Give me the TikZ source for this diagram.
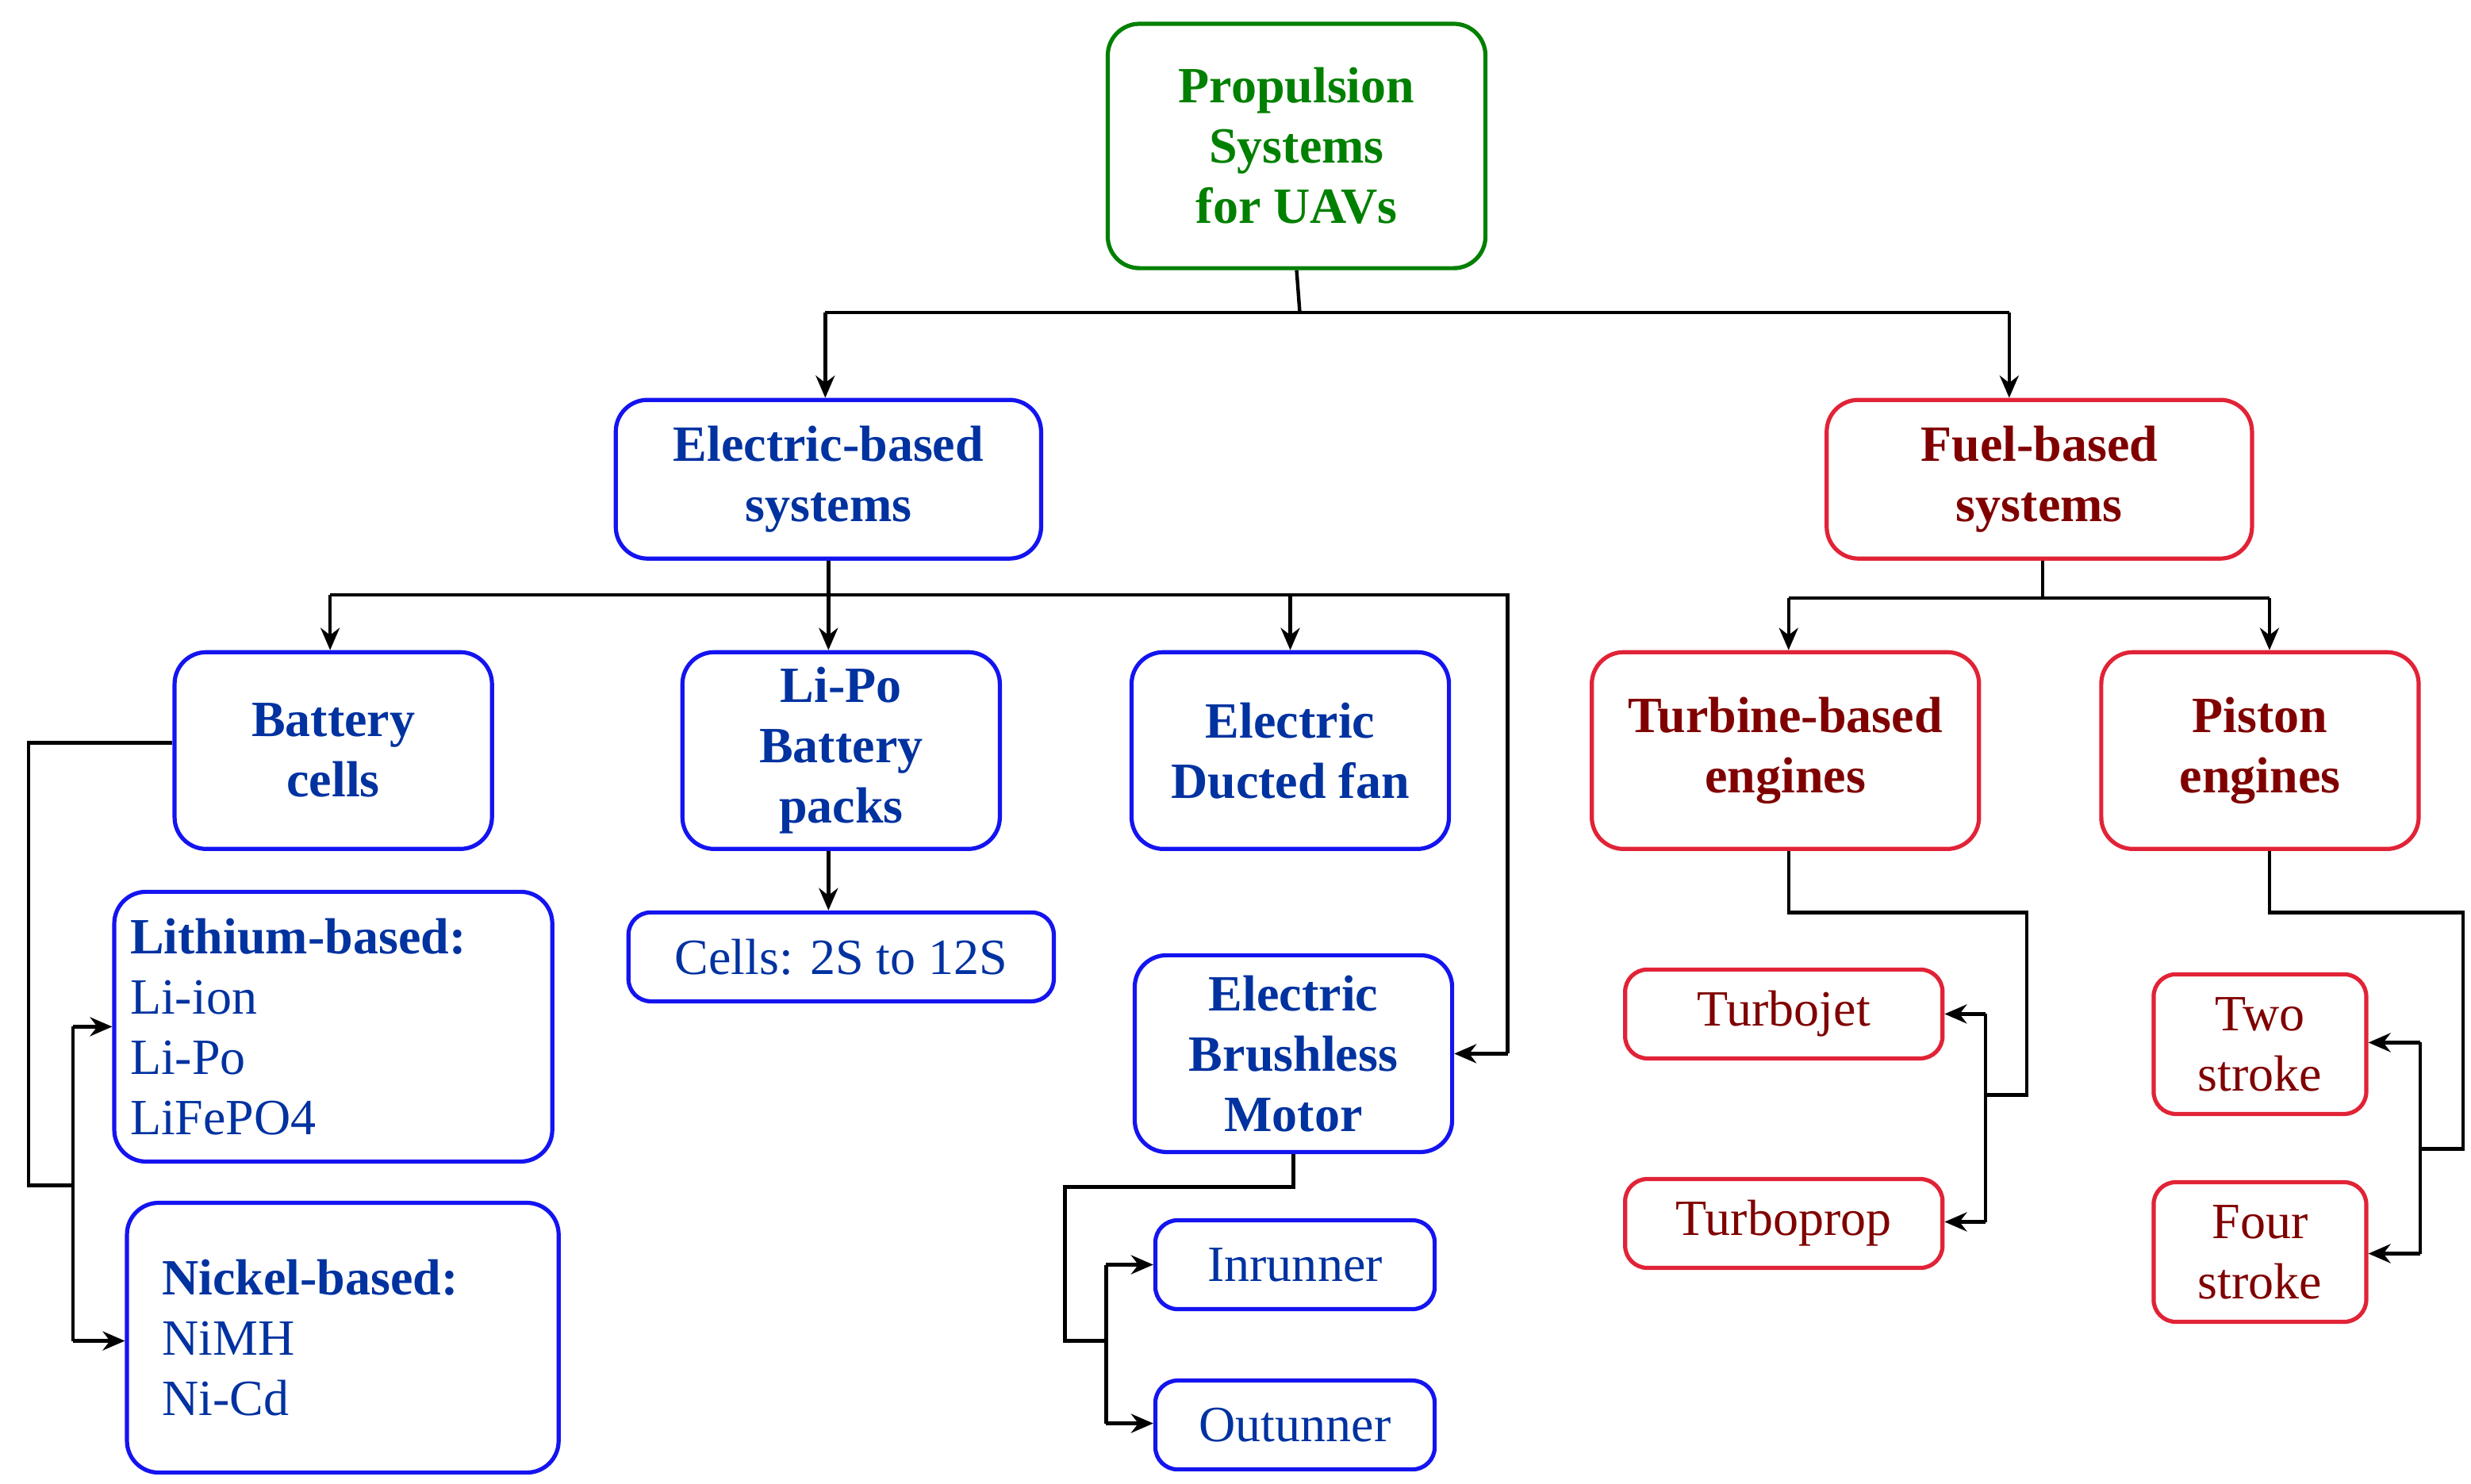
\documentclass[tikz,border=0pt]{standalone}
\usepackage{fontspec}
\setmainfont{Liberation Serif}
\usetikzlibrary{arrows.meta}
\definecolor{gr}{RGB}{0,128,0}
\definecolor{bb}{RGB}{20,20,240}
\definecolor{bt}{RGB}{0,50,160}
\definecolor{rb}{RGB}{225,35,55}
\definecolor{rt}{RGB}{128,0,0}
\begin{document}
\begin{tikzpicture}[x=0.5pt,y=-0.5pt,
 box/.style={draw,line width=1.3pt,rounded corners=10pt,align=center,inner sep=2pt,font=\fontsize{16}{19}\selectfont\bfseries},
 gbox/.style={box,draw=gr,text=gr},
 bbox/.style={box,draw=bb,text=bt},
 rbox/.style={box,draw=rb,text=rt},
 sm/.style={font=\fontsize{16}{19}\selectfont,rounded corners=7pt},
 ln/.style={line width=1.1pt,black},
 ar/.style={ln,-{Stealth[length=7pt,width=6pt]}}]
\useasboundingbox (0,0) rectangle (1557,935);
\node[gbox,minimum width=119pt,minimum height=77pt] (root) at (817,92) {Propulsion\\Systems\\for UAVs};
\node[bbox,minimum width=134pt,minimum height=50pt] (elec) at (522,302) {Electric-based\\systems};
\node[rbox,minimum width=134pt,minimum height=50pt] (fuel) at (1285,302) {Fuel-based\\systems};
\node[bbox,minimum width=100pt,minimum height=62pt] (batt) at (210,473) {Battery\\cells};
\node[bbox,minimum width=100pt,minimum height=62pt] (lipo) at (530,473) {Li-Po\\Battery\\packs};
\node[bbox,minimum width=100pt,minimum height=62pt] (edf) at (813,473) {Electric\\Ducted fan};
\node[rbox,minimum width=122pt,minimum height=62pt] (turb) at (1125,473) {Turbine-based\\engines};
\node[rbox,minimum width=100pt,minimum height=62pt] (pist) at (1424,473) {Piston\\engines};
\node[bbox,minimum width=136pt,minimum height=85pt,align=left,text width=128pt,inner sep=5pt] (lith) at (210,647) {Lithium-based:\\\mdseries Li-ion\\\mdseries Li-Po\\\mdseries LiFePO4};
\node[bbox,minimum width=136pt,minimum height=85pt,align=left,text width=114pt,inner sep=5pt,xshift=6pt] (nick) at (204,843) {Nickel-based:\\\mdseries NiMH\\\mdseries Ni-Cd};
\node[bbox,sm,minimum width=134pt,minimum height=28pt] (cells) at (530,603) {Cells: 2S to 12S};
\node[bbox,minimum width=100pt,minimum height=62pt] (ebm) at (815,664) {Electric\\Brushless\\Motor};
\node[bbox,sm,minimum width=88pt,minimum height=28pt] (inr) at (816,797) {Inrunner};
\node[bbox,sm,minimum width=88pt,minimum height=28pt] (out) at (816,898) {Outunner};
\node[rbox,sm,minimum width=100pt,minimum height=28pt] (tj) at (1124,639) {Turbojet};
\node[rbox,sm,minimum width=100pt,minimum height=28pt] (tp) at (1124,771) {Turboprop};
\node[rbox,sm,minimum width=67pt,minimum height=44pt] (two) at (1424,658) {Two\\stroke};
\node[rbox,sm,minimum width=67pt,minimum height=44pt] (four) at (1424,789) {Four\\stroke};
% root
\draw[ln] (root.south) -- (819,197) coordinate (r1);
\draw[ar] (520,197) -- (elec.north-|520,0);
\draw[ar] (1266,197) -- (fuel.north-|1266,0);
\draw[ln] (520,197) -- (1266,197);
% electric
\draw[ln] (elec.south) -- (522,375);
\draw[ln] (208,375) -- (950,375) -- (950,664);
\draw[ar] (208,375) -- (batt.north-|208,0);
\draw[ar] (522,375) -- (lipo.north-|522,0);
\draw[ar] (813,375) -- (edf.north);
\draw[ar] (950,664) -- (ebm.east);
% battery
\draw[ln] (batt.west|-0,468) -- (18,468) -- (18,747) -- (46,747);
\draw[ln] (46,647) -- (46,845);
\draw[ar] (46,647) -- (lith.west|-0,647);
\draw[ar] (46,845) -- (nick.west|-0,845);
% lipo
\draw[ar] (lipo.south-|522,0) -- (cells.north-|522,0);
% ebm
\draw[ln] (ebm.south) -- (815,748) -- (671,748) -- (671,845) -- (697,845);
\draw[ln] (697,797) -- (697,897);
\draw[ar] (697,797) -- (inr.west);
\draw[ar] (697,897) -- (out.west|-0,897);
% fuel
\draw[ln] (fuel.south-|1287,0) -- (1287,377);
\draw[ln] (1127,377) -- (1430,377);
\draw[ar] (1127,377) -- (turb.north-|1127,0);
\draw[ar] (1430,377) -- (pist.north-|1430,0);
% turbine
\draw[ln] (turb.south-|1127,0) -- (1127,575) -- (1277,575) -- (1277,690) -- (1251,690);
\draw[ln] (1251,639) -- (1251,770);
\draw[ar] (1251,639) -- (tj.east);
\draw[ar] (1251,770) -- (tp.east|-0,770);
% piston
\draw[ln] (pist.south-|1430,0) -- (1430,575) -- (1552,575) -- (1552,724) -- (1525,724);
\draw[ln] (1525,657) -- (1525,790);
\draw[ar] (1525,657) -- (two.east|-0,657);
\draw[ar] (1525,790) -- (four.east|-0,790);
\end{tikzpicture}
\end{document}
